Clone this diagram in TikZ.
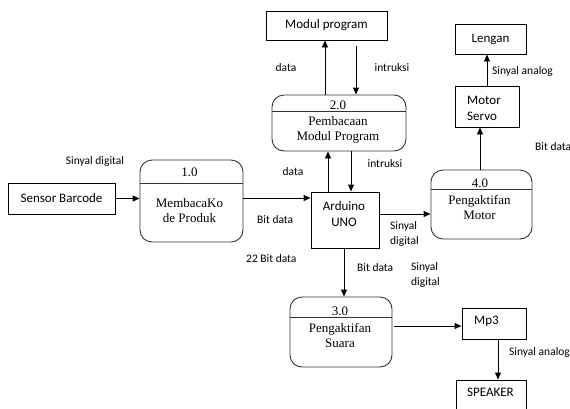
\documentclass[tikz,border=0pt]{standalone}
\usepackage{fontspec}
\setmainfont{Liberation Serif}
\newfontfamily\calfont{Carlito}
\usetikzlibrary{arrows.meta}
\tikzset{
  ent/.style={draw=black, line width=0.9pt, inner sep=0pt, font=\calfont\fontsize{13}{16}\selectfont},
  proc/.style={draw=black!80, rounded corners=12pt, line width=0.9pt, inner sep=0pt},
  divline/.style={draw=black!80, line width=0.9pt},
  ptext/.style={font=\fontsize{13}{15}\selectfont, inner sep=0pt},
  etext/.style={font=\calfont\fontsize{13}{16}\selectfont, inner sep=0pt},
  lbl/.style={font=\calfont\fontsize{11.5}{15}\selectfont, inner sep=0pt, align=left},
  arr/.style={-{Triangle[length=7pt,width=6pt]}, line width=0.9pt},
}
\begin{document}
\begin{tikzpicture}[x=1pt,y=-1pt]
\useasboundingbox (0,0) rectangle (570,408);

% entities
\node[ent, minimum width=107pt, minimum height=31pt] (sb) at (61.5,198.5) {Sensor Barcode};
\node[ent, minimum width=121pt, minimum height=29pt] (mp) at (326.5,25.5) {Modul program};
\node[ent, minimum width=71pt, minimum height=30pt] (len) at (490.5,39) {Lengan};
\node[ent, minimum width=64pt, minimum height=41pt] (ms) at (487,106.5) {};
\node[etext, anchor=west, align=left] (mst) at (467,108) {Motor\\Servo};
\node[ent, minimum width=68pt, minimum height=56pt] (ard) at (345,220) {};
\node[etext, align=center] (ardt) at (344,214.5) {Arduino\\UNO};
\node[ent, minimum width=64pt, minimum height=31pt] (mp3) at (494,323.5) {};
\node[etext, anchor=west] (mp3t) at (474,321) {Mp3};
\node[ent, minimum width=70pt, minimum height=34pt] (spk) at (491,397) {};
\node[etext] (spkt) at (490.5,392) {SPEAKER};

% processes
\node[proc, minimum width=103pt, minimum height=82pt] (p1) at (191.5,201) {};
\draw[divline] (p1.west |- 0,183) -- (p1.east |- 0,183);
\node[ptext] (p1n) at (189.5,172) {1.0};
\node[ptext, align=center] (p1t) at (189.5,211) {MembacaKo\\de Produk};

\node[proc, minimum width=134pt, minimum height=56pt] (p2) at (339,123) {};
\draw[divline] (p2.west |- 0,111) -- (p2.east |- 0,111);
\node[ptext] (p2n) at (338,105) {2.0};
\node[ptext, align=center] (p2t) at (338,129.5) {Pembacaan\\Modul Program};

\node[proc, minimum width=101pt, minimum height=69pt] (p4) at (481.5,204.5) {};
\draw[divline] (p4.west |- 0,189) -- (p4.east |- 0,189);
\node[ptext] (p4n) at (480,183) {4.0};
\node[ptext, align=center] (p4t) at (479.5,207) {Pengaktifan\\Motor};

\node[proc, minimum width=102pt, minimum height=70pt] (p3) at (341,332) {};
\draw[divline] (p3.west |- 0,317) -- (p3.east |- 0,317);
\node[ptext] (p3n) at (340,311) {3.0};
\node[ptext, align=center] (p3t) at (340,335) {Pengaktifan\\Suara};

% connectors
\draw[arr] (sb.east) -- (sb.east -| p1.west);
\draw[arr] (p1.east |- 0,198) -- (ard.west |- 0,198);
\draw[arr] (ard.north -| 328,0) -- (p2.south -| 328,0);
\draw[arr] (p2.south -| 351,0) -- (ard.north -| 351,0);
\draw[arr] (p2.north -| 325,0) -- (mp.south -| 325,0);
\draw[arr, shorten <=6pt] (mp.south -| 356,0) -- (p2.north -| 356,0);
\draw[arr] (ard.east |- 0,214) -- (p4.west |- 0,214);
\draw[arr] (p4.north -| 480,0) -- (ms.south -| 480,0);
\draw[arr] (ms.north -| 487,0) -- (len.south -| 487,0);
\draw[arr] (ard.south -| 344,0) -- (p3.north -| 344,0);
\draw[arr, shorten <=2pt] (p3.east |- 0,326) -- (mp3.west |- 0,326);
\draw[arr] (mp3.south -| 498,0) -- (spk.north -| 498,0);

% labels
\node[lbl] (l1) at (95,161) {Sinyal digital};
\node[lbl, anchor=west] (l2) at (257,220) {Bit data};
\node[lbl, anchor=west] (l3) at (246,259) {22 Bit data};
\node[lbl] (l4) at (286,68) {data};
\node[lbl] (l5) at (392,68) {intruksi};
\node[lbl] (l6) at (293,172) {data};
\node[lbl] (l7) at (385,164) {intruksi};
\node[lbl, anchor=west] (l8) at (492,71) {Sinyal analog};
\node[lbl, anchor=west] (l9) at (535,147) {Bit data};
\node[lbl, anchor=west] (l10) at (390,233.5) {Sinyal\\digital};
\node[lbl, anchor=west] (l11) at (357,268) {Bit data};
\node[lbl, anchor=west] (l12) at (411,275) {Sinyal\\digital};
\node[lbl, anchor=west] (l13) at (509,352) {Sinyal analog};
\end{tikzpicture}
\end{document}
